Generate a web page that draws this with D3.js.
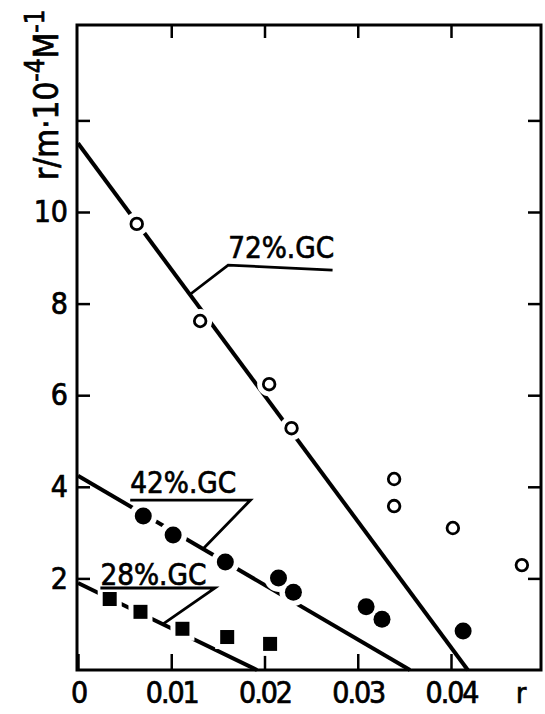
<!DOCTYPE html>
<html>
<head>
<meta charset="utf-8">
<script src="https://cdn.jsdelivr.net/npm/d3@7"></script>
<style>
  body { margin: 0; background: #fff; }
  svg { display: block; }
  text { font-family: "DejaVu Sans Condensed", "Liberation Sans Narrow", "DejaVu Sans", sans-serif; fill: #000; stroke: #000; stroke-width: 0.7px; }
</style>
</head>
<body>
<svg id="chart"></svg>
<script>
// values
const xTicks = [0, 0.01, 0.02, 0.03, 0.04];
const yTicks = [2, 4, 6, 8, 10, 12];

// 72% GC, open circles
const gc72R = [0.0063, 0.0131, 0.0205, 0.0229, 0.0339, 0.0339, 0.0402, 0.0476];
const gc72V = [9.74, 7.62, 6.24, 5.28, 4.17, 3.58, 3.10, 2.29];
// 42% GC, filled circles
const gc42R = [0.0070, 0.0102, 0.0158, 0.0215, 0.0231, 0.0309, 0.0326, 0.0413];
const gc42V = [3.36, 2.95, 2.36, 2.01, 1.70, 1.38, 1.11, 0.85];
// 28% GC, filled squares
const gc28R = [0.0034, 0.0067, 0.0112, 0.0160, 0.0206];
const gc28V = [1.55, 1.27, 0.90, 0.72, 0.57];

// fitted lines: y-intercept and x-intercept
const fitLabels = ['72%.GC', '42%.GC', '28%.GC'];
const fitY0 = [11.5, 4.24, 1.90];
const fitX0 = [0.0418, 0.0356, 0.0192];

const width = 545, height = 714;
const svg = d3.select('#chart').attr('width', width).attr('height', height);

const x = d3.scaleLinear().domain([0, 0.04]).range([78, 451]);
const y = d3.scaleLinear().domain([0, 10]).range([670, 212]);

const frame = { left: 77, right: 541, top: 25, bottom: 670 };

// frame
svg.append('rect')
    .attr('x', frame.left).attr('y', frame.top)
    .attr('width', frame.right - frame.left).attr('height', frame.bottom - frame.top)
    .attr('fill', 'none').attr('stroke', '#000').attr('stroke-width', 3);

const yAxisL = svg.append('g').attr('transform', `translate(${frame.left},0)`)
    .call(d3.axisLeft(y).tickValues(yTicks).tickSize(-13).tickPadding(9)
        .tickFormat(d => d === 12 ? '' : d));
const yAxisR = svg.append('g').attr('transform', `translate(${frame.right},0)`)
    .call(d3.axisRight(y).tickValues(yTicks).tickSize(-13).tickFormat(''));
const xAxisB = svg.append('g').attr('transform', `translate(0,${frame.bottom})`)
    .call(d3.axisBottom(x).tickValues(xTicks).tickSize(-16).tickPadding(12)
        .tickFormat(d => d === 0 ? '0' : d3.format('.2f')(d)));
const xAxisT = svg.append('g').attr('transform', `translate(0,${frame.top})`)
    .call(d3.axisTop(x).tickValues(xTicks.slice(1)).tickSize(-13).tickFormat(''));

[yAxisL, yAxisR, xAxisB, xAxisT].forEach(g => {
    g.select('.domain').remove();
    g.selectAll('.tick line').attr('stroke', '#000').attr('stroke-width', 2.5);
    g.selectAll('.tick text')
        .style('font-size', '30px')
        .attr('fill', '#000');
});
xAxisB.selectAll('.tick text').style('letter-spacing', '-2px');

// axis titles
svg.append('text')
    .attr('x', 516).attr('y', 703)
    .style('font-size', '28px')
    .text('r');

const ytitle = svg.append('text')
    .attr('transform', 'translate(58,180) rotate(-90)')
    .style('font-size', '33px');
ytitle.append('tspan').text('r/m·10');
ytitle.append('tspan').attr('dy', -14).style('font-size', '26px').text('-4');
ytitle.append('tspan').attr('dy', 14).text('M');
ytitle.append('tspan').attr('dy', -14).style('font-size', '26px').text('-1');

// fitted lines
const lines = svg.append('g');
fitLabels.forEach((name, i) => {
    lines.append('line')
        .attr('x1', x(0)).attr('y1', y(fitY0[i]))
        .attr('x2', x(fitX0[i])).attr('y2', y(0))
        .attr('stroke', '#000').attr('stroke-width', 4);
});

// markers with white halo (gives the breaks in the lines)
const pts72 = gc72R.map((r, i) => ({ r: r, v: gc72V[i] }));
const pts42 = gc42R.map((r, i) => ({ r: r, v: gc42V[i] }));
const pts28 = gc28R.map((r, i) => ({ r: r, v: gc28V[i] }));

const marks = svg.append('g');
marks.selectAll('.h72').data(pts72).enter().append('circle')
    .attr('cx', d => x(d.r)).attr('cy', d => y(d.v)).attr('r', 12).attr('fill', '#fff');
marks.selectAll('.h42').data(pts42).enter().append('circle')
    .attr('cx', d => x(d.r)).attr('cy', d => y(d.v)).attr('r', 14).attr('fill', '#fff');
marks.selectAll('.h28').data(pts28).enter().append('rect')
    .attr('x', d => x(d.r) - 12).attr('y', d => y(d.v) - 12)
    .attr('width', 24).attr('height', 24).attr('fill', '#fff');

marks.selectAll('.m72').data(pts72).enter().append('circle')
    .attr('cx', d => x(d.r)).attr('cy', d => y(d.v)).attr('r', 5.8)
    .attr('fill', '#fff').attr('stroke', '#000').attr('stroke-width', 2.8);
marks.selectAll('.m42').data(pts42).enter().append('circle')
    .attr('cx', d => x(d.r)).attr('cy', d => y(d.v)).attr('r', 8.5)
    .attr('fill', '#000');
marks.selectAll('.m28').data(pts28).enter().append('rect')
    .attr('x', d => x(d.r) - 7).attr('y', d => y(d.v) - 7)
    .attr('width', 14).attr('height', 14).attr('fill', '#000');

// labels with leader lines
const fitLine = (i, r) => fitY0[i] * (1 - r / fitX0[i]);
const labelPos = [
    { tx: 0.0161, ty: 9.0, u0: 0.0161, u1: 0.0273, uy: 8.84, uy1: 8.73, hit: 0.0120 },
    { tx: 0.0056, ty: 3.86, u0: 0.0056, u1: 0.0185, uy: 3.71, uy1: 3.71, hit: 0.0134 },
    { tx: 0.0024, ty: 1.86, u0: 0.0024, u1: 0.0147, uy: 1.79, uy1: 1.79, hit: 0.0091 }
];
const ann = svg.append('g');
fitLabels.forEach((name, i) => {
    const p = labelPos[i];
    ann.append('text')
        .attr('x', x(p.tx)).attr('y', y(p.ty))
        .attr('textLength', 106).attr('lengthAdjust', 'spacingAndGlyphs')
        .style('font-size', '31px')
        .text(name);
    // 72%: leader runs from the line up to the left end of the underline;
    // 42% and 28%: from the right end of the underline down to the line
    const pts = i === 0
        ? [[x(p.u1), y(p.uy1)], [x(p.u0), y(p.uy)], [x(p.hit), y(fitLine(i, p.hit))]]
        : [[x(p.u0), y(p.uy)], [x(p.u1), y(p.uy1)], [x(p.hit), y(fitLine(i, p.hit))]];
    ann.append('path')
        .attr('d', d3.line()(pts))
        .attr('fill', 'none').attr('stroke', '#000').attr('stroke-width', 2.8);
});
</script>
</body>
</html>
